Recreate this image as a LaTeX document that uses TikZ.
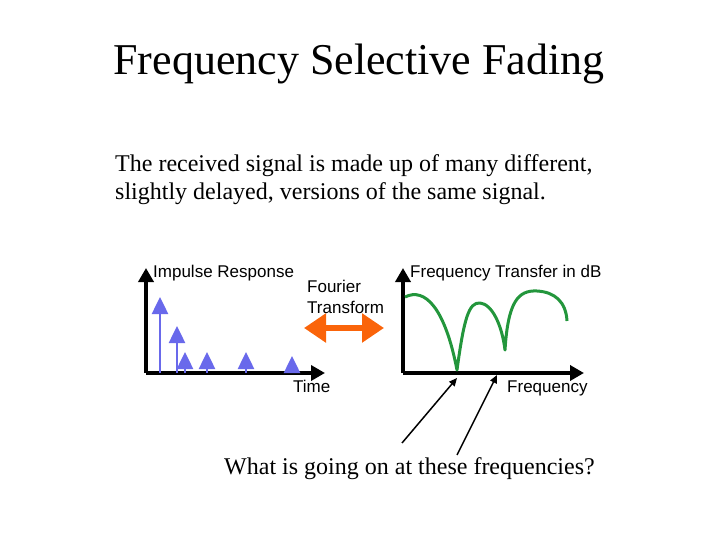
\documentclass[tikz,border=0pt]{standalone}
\usepackage{fontspec}
\setmainfont{Liberation Serif}
\setsansfont{Liberation Sans}
\usetikzlibrary{arrows.meta,positioning}
\definecolor{impulseblue}{RGB}{105,105,235}
\definecolor{fadegreen}{RGB}{35,150,60}
\definecolor{ftorange}{RGB}{250,100,10}

\begin{document}
\begin{tikzpicture}[x=1pt, y=-1pt,
  axis/.style={line width=3.5pt, -{Triangle[width=15pt,length=14pt]}},
  impulse/.style={impulseblue, line width=2.5pt, -{Triangle[width=16pt,length=17pt]}},
  plotlabel/.style={font=\sffamily\fontsize{17}{20}\selectfont, inner sep=0pt},
  bodytext/.style={font=\fontsize{24}{28}\selectfont, inner sep=0pt}]
\useasboundingbox (0,0) rectangle (720,540);

\node[font=\fontsize{44}{50}\selectfont, inner sep=0pt, anchor=base] (title) at (359,75) {Frequency Selective Fading};

\node[bodytext, anchor=base west] (line1) at (115,172) {The received signal is made up of many different,};
\node[bodytext, anchor=base west] (line2) at (115,200) {slightly delayed, versions of the same signal.};

% impulse response
\coordinate (o1) at (146,373);
\draw[axis] (o1) -- (146,268);
\draw[axis] (o1) -- (325,373);
\node[plotlabel, anchor=base west] (imp) at (153,277) {Impulse Response};
\node[plotlabel, anchor=base west] (time) at (293,392) {Time};
\foreach \x/\y in {160/297, 177/326, 185/352, 207/352, 246/352, 292/356}
  \draw[impulse] (\x,373) -- (\x,\y);

% fourier transform
\node[plotlabel, anchor=base west] (fourier) at (307,292) {Fourier};
\node[plotlabel, anchor=base west] (transform) at (307,313) {Transform};
\coordinate (ftl) at (304,328);
\coordinate (ftr) at (384,328);
\draw[ftorange, line width=6pt, {Triangle[width=28pt,length=22pt]}-{Triangle[width=28pt,length=22pt]}] (ftl) -- (ftr);

% frequency transfer
\coordinate (o2) at (403,373);
\draw[axis] (o2) -- (403,268);
\draw[axis] (o2) -- (584,373);
\node[plotlabel, anchor=base west] (transfer) at (410,277) {Frequency Transfer in dB};
\node[plotlabel, anchor=base west] (freq) at (507,392) {Frequency};
\coordinate (null1) at (457,370);
\coordinate (null2) at (505,350);
\draw[fadegreen, line width=3pt, line join=round]
  (405,297) .. controls (425,287) and (445,308) .. (null1)
  .. controls (464,318) and (469,302) .. (480,303)
  .. controls (492,304) and (502,325) .. (null2)
  .. controls (508,302) and (518,290) .. (537,291)
  .. controls (555,292) and (566,302) .. (567,321);

% question
\node[bodytext, anchor=base west] (question) at (224,474) {What is going on at these frequencies?};
\coordinate (q1) at (402,443);
\coordinate (q2) at (457,455);
\coordinate (tip1) at (457,378);
\coordinate (tip2) at (497,375);
\draw[line width=1.5pt, -{Triangle[width=7pt,length=8pt]}] (q1) -- (tip1);
\draw[line width=1.5pt, -{Triangle[width=7pt,length=8pt]}] (q2) -- (tip2);
\end{tikzpicture}
\end{document}
